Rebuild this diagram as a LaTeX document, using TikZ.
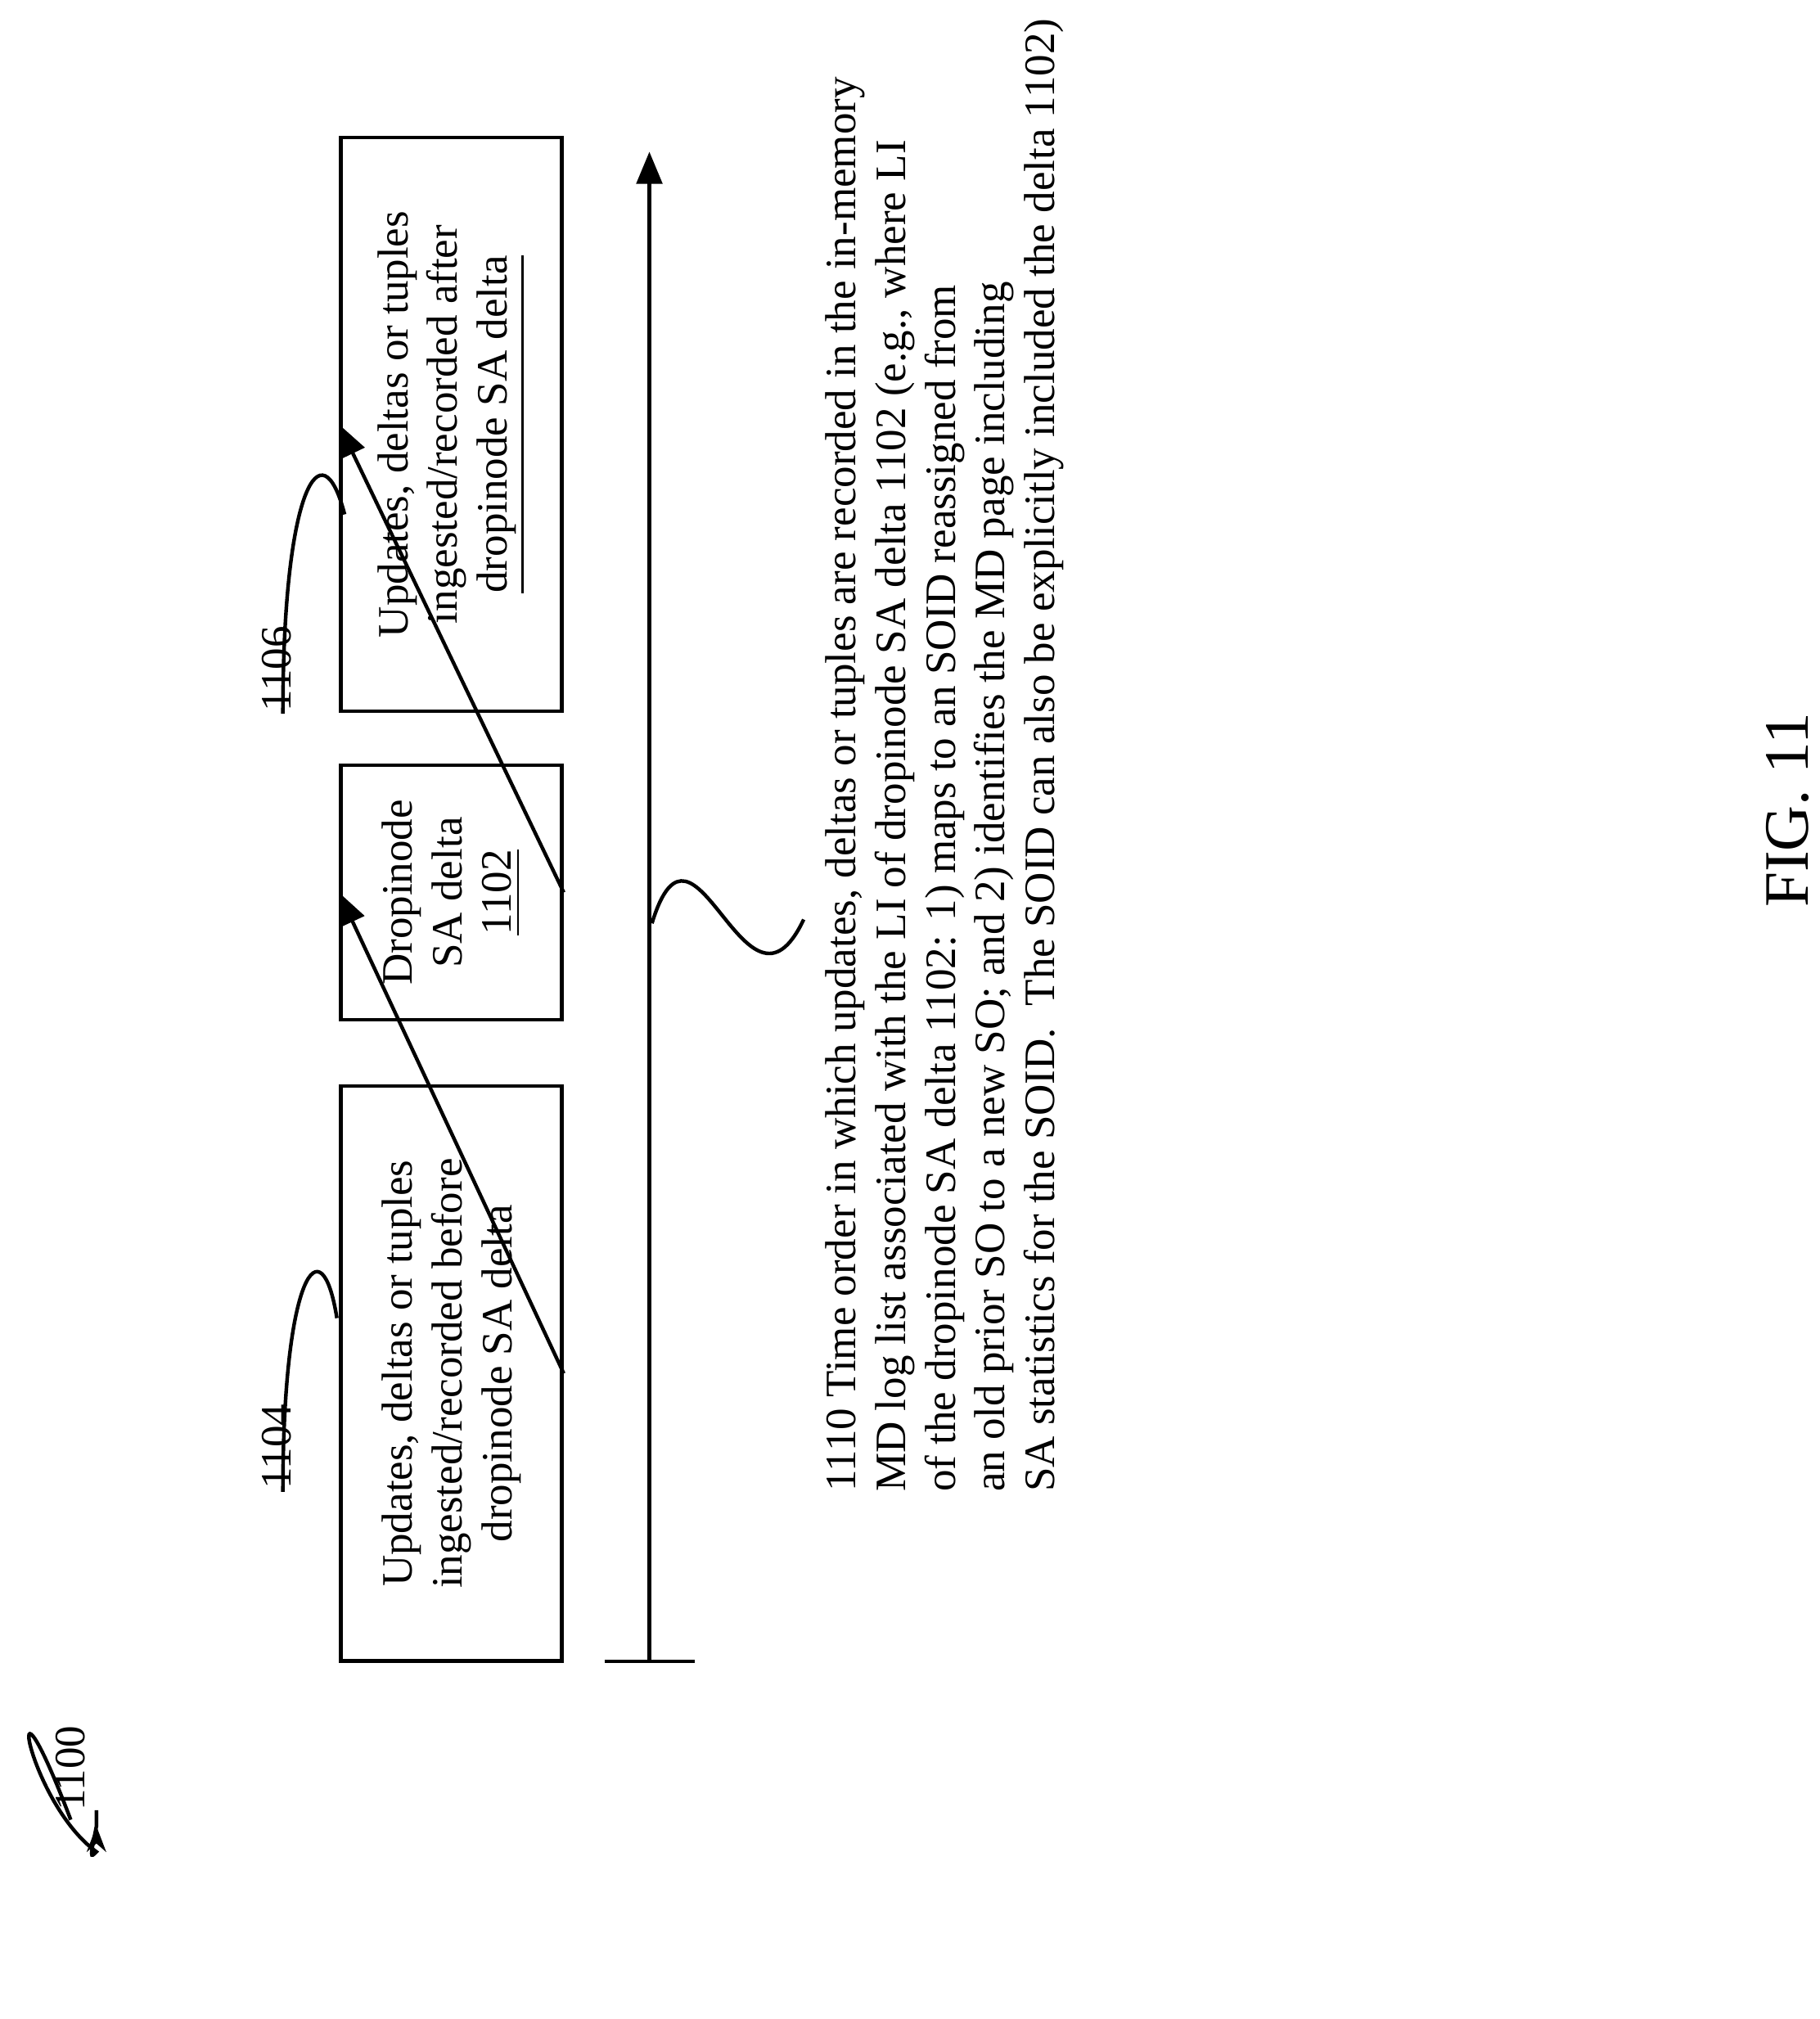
\documentclass[tikz,border=0pt]{standalone}
\usepackage{fontspec}
\setmainfont{Liberation Serif}
\usetikzlibrary{arrows.meta}
\tikzset{
  blk/.style={draw, thick, rotate=90, minimum height=1.72cm, align=center, inner sep=2pt},
  link/.style={thick, -{Triangle[length=2.5mm,width=2mm]}},
  lbl/.style={rotate=90}
}
\begin{document}
\fontsize{9.6}{11}\selectfont
\begin{tikzpicture}
  \useasboundingbox (0,0) rectangle (14.15,15.70);
  % boxes
  \node[blk, minimum width=4.47cm] (b1104) at (3.51,5.02) {Updates, deltas or tuples\\ingested/recorded before\\dropinode SA delta};
  \node[blk, minimum width=1.98cm] (b1102) at (3.51,8.76) {Dropinode\\SA delta\\\underline{1102}};
  \node[blk, minimum width=4.46cm] (b1106) at (3.51,12.40) {Updates, deltas or tuples\\ingested/recorded after\\\underline{dropinode SA delta}};
  \draw[link] (b1104.south) -- (b1102.north);
  \draw[link] (b1102.south) -- (b1106.north);
  % time line
  \coordinate (t0) at (5.05,2.78);
  \coordinate (t1) at (5.05,14.52);
  \draw[thick] (4.70,2.78) -- (5.40,2.78);
  \draw[link] (t0) -- (t1);
  \coordinate (s0) at (5.07,8.52);
  \coordinate (s1) at (6.25,8.55);
  \draw[thick] (s0) .. controls (5.40,9.60) and (5.80,7.60) .. (s1);
  \node[lbl, anchor=north west, align=left] (t1110) at (6.30,3.98)
    {1110 Time order in which updates, deltas or tuples are recorded in the in-memory\\
     MD log list associated with the LI of dropinode SA delta 1102 (e.g., where LI\\
     of the dropinode SA delta 1102: 1) maps to an SOID reassigned from\\
     an old prior SO to a new SO; and 2) identifies the MD page including\\
     SA statistics for the SOID.\ \ The SOID can also be explicitly included the delta 1102)};
  % reference labels
  \node[lbl] (n1104) at (2.15,4.45) {1104};
  \coordinate (c1104) at (2.62,5.45);
  \draw[thick] (n1104.west) ++(0.05,0.1) .. controls (2.2,5.8) and (2.5,6.2) .. (c1104);
  \node[lbl] (n1106) at (2.15,10.50) {1106};
  \coordinate (c1106) at (2.68,11.70);
  \draw[thick] (n1106.west) ++(0.05,0.1) .. controls (2.2,11.9) and (2.5,12.4) .. (c1106);
  \node[lbl] (n1100) at (0.55,1.95) {1100};
  \coordinate (c1100) at (0.75,1.45);
  \draw[thick, -{Stealth[length=2mm]}] (n1100.west) ++(0.0,0.05) .. controls (0.0,3.0) and (0.2,1.7) .. (0.75,1.3) .. controls (0.7,1.25) .. (c1100|-0,1.5) -- (0.75,1.50);
  \node[lbl, font=\fontsize{14}{16}\selectfont] (fig) at (13.90,9.40) {FIG. 11};
\end{tikzpicture}
\end{document}
